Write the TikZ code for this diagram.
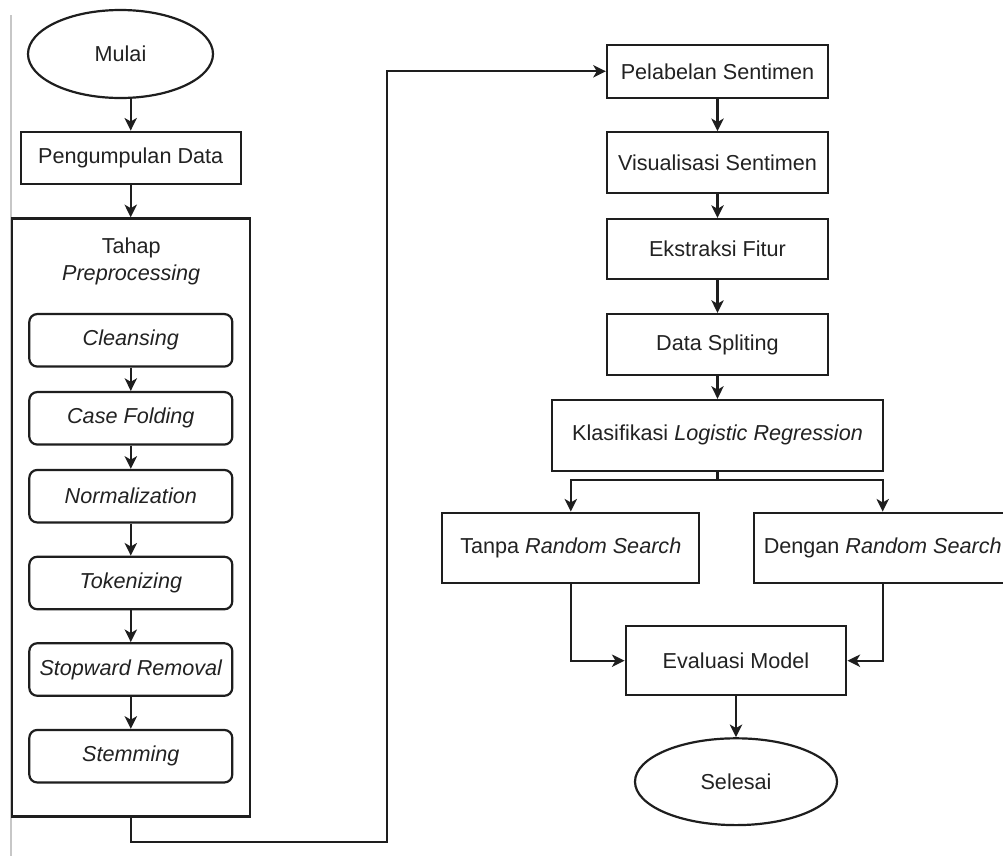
\documentclass[tikz,border=0pt]{standalone}
\usepackage{fontspec}
\setmainfont{Liberation Sans}
\usetikzlibrary{arrows.meta,shapes.geometric}
\newcommand\pxl[1]{#1*0.02cm}
\definecolor{txt}{HTML}{222222}
\definecolor{edge}{HTML}{1E1E1E}
\tikzset{
  base/.style={draw=edge, line width=1.25pt, inner sep=0pt, text=txt,
    font=\fontsize{12.3pt}{15.3pt}\selectfont, align=center},
  box/.style={base, rectangle},
  rbox/.style={base, rectangle, rounded corners=4.5pt},
  term/.style={base, ellipse},
  arr/.style={draw=edge, line width=1.25pt, -{Stealth[length=7.2pt,width=7pt,inset=2pt]}},
  conn/.style={draw=edge, line width=1.25pt}
}
\begin{document}
\begin{tikzpicture}[x=0.02cm,y=-0.02cm]
\useasboundingbox (0,0) rectangle (1003,856);
\clip (0,0) rectangle (1003,856);
\fill[white] (0,0) rectangle (1003,856);
\draw[color=black!22, line width=1.2pt] (10.7,15) -- (10.7,856);

% left column
\node[term, minimum width=\pxl{185}, minimum height=\pxl{88}] (mulai) at (120.5,54) {Mulai};
\node[box, minimum width=\pxl{220}, minimum height=\pxl{52.3}] (pd) at (130.7,157.9) {Pengumpulan Data};
\node[box, minimum width=\pxl{237.7}, minimum height=\pxl{598}] (pre) at (131.2,517.4) {};
\node[text=txt, font=\fontsize{12.3pt}{15.3pt}\selectfont, align=center, inner sep=0pt] (tahap) at (131.2,261.5) {Tahap\\\itshape Preprocessing};

\node[rbox, minimum width=\pxl{203}, minimum height=\pxl{52.5}] (c1) at (130.8,340.3) {\itshape Cleansing};
\node[rbox, minimum width=\pxl{203}, minimum height=\pxl{52.5}] (c2) at (130.8,418.3) {\itshape Case Folding};
\node[rbox, minimum width=\pxl{203}, minimum height=\pxl{52.5}] (c3) at (130.8,496.2) {\itshape Normalization};
\node[rbox, minimum width=\pxl{203}, minimum height=\pxl{52.5}] (c4) at (130.8,583) {\itshape Tokenizing};
\node[rbox, minimum width=\pxl{203}, minimum height=\pxl{52.5}] (c5) at (130.8,669.5) {\itshape Stopward Removal};
\node[rbox, minimum width=\pxl{203}, minimum height=\pxl{52.5}] (c6) at (130.8,756.2) {\itshape Stemming};

% right column
\node[box, minimum width=\pxl{221}, minimum height=\pxl{52.7}] (pel) at (717.5,71.3) {Pelabelan Sentimen};
\node[box, minimum width=\pxl{221}, minimum height=\pxl{60.4}] (vis) at (717.5,162.5) {Visualisasi Sentimen};
\node[box, minimum width=\pxl{221}, minimum height=\pxl{60.3}] (eks) at (717.5,249.2) {Ekstraksi Fitur};
\node[box, minimum width=\pxl{221}, minimum height=\pxl{61}] (ds) at (717.5,344.5) {Data Spliting};
\node[box, minimum width=\pxl{330.4}, minimum height=\pxl{70.7}] (kl) at (717.5,435.3) {Klasifikasi \itshape Logistic Regression};
\node[box, minimum width=\pxl{257}, minimum height=\pxl{70}] (tanpa) at (570.8,547.7) {Tanpa \itshape Random Search};
\node[box, minimum width=\pxl{257}, minimum height=\pxl{70}] (dengan) at (882.7,547.7) {Dengan \itshape Random Search};
\node[box, minimum width=\pxl{220.6}, minimum height=\pxl{69.3}] (eval) at (736,660.7) {Evaluasi Model};
\node[term, minimum width=\pxl{202}, minimum height=\pxl{86.8}] (selesai) at (736,781.7) {Selesai};

% connectors left
\draw[arr] (mulai.south -| pd.north) -- (pd.north);
\draw[arr] (pd.south) -- (pd.south |- pre.north);
\draw[arr] (c1) -- (c2);
\draw[arr] (c2) -- (c3);
\draw[arr] (c3) -- (c4);
\draw[arr] (c4) -- (c5);
\draw[arr] (c5) -- (c6);

% long connector
\coordinate (lowturn) at (387.3,842.3);
\draw[arr] (pre.south) |- (lowturn) |- (pel.west);

% connectors right
\draw[arr] (pel) -- (vis);
\draw[arr] (vis) -- (eks);
\draw[arr] (eks) -- (ds);
\draw[arr] (ds) -- (kl);
\draw[arr] (kl.south) -- ++(0,8.3) -| (tanpa.north);
\draw[arr] (kl.south) -- ++(0,8.3) -| (dengan.north);
\draw[arr] (tanpa.south) |- (eval.west);
\draw[arr] (dengan.south) |- (eval.east);
\draw[arr] (eval.south) -- (selesai.north);
\end{tikzpicture}
\end{document}
